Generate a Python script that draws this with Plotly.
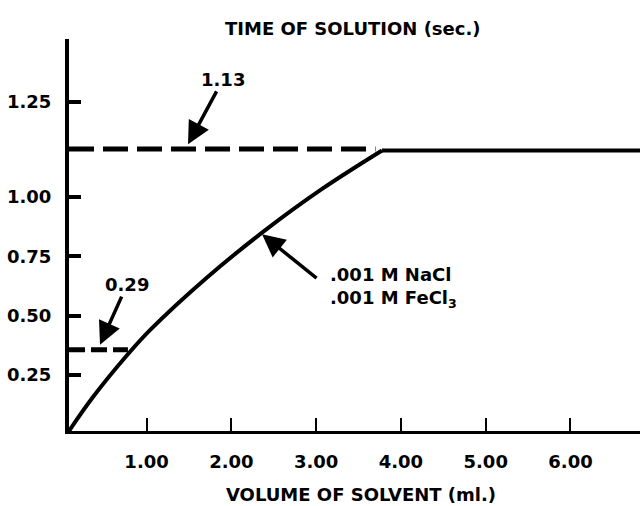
import plotly.graph_objects as go

# Curve: volume of solvent (ml) vs time of solution (sec), in the chart's drawn scale
volume_ml = [0.085, 0.368, 0.769, 1.040, 1.713, 2.385, 3.070, 3.777, 6.82]
time_sec = [0.014, 0.157, 0.333, 0.439, 0.661, 0.856, 1.034, 1.196, 1.196]

# Dashed reference levels (drawn position), their labels, and where they end on x
ref_levels = [1.202, 0.356]
ref_labels = ["1.13", "0.29"]
ref_x_end = [3.70, 0.78]

x_tick_vals = [1, 2, 3, 4, 5, 6]
x_tick_labels = ["1.00", "2.00", "3.00", "4.00", "5.00", "6.00"]
y_tick_vals = [0.25, 0.50, 0.75, 1.00, 1.40]
y_tick_labels = ["0.25", "0.50", "0.75", "1.00", "1.25"]

series_label = ".001 M NaCl<br>.001 M FeCl<sub>3</sub>"

FONT = "DejaVu Sans"
x0, x1 = 0.085, 6.82
y0, y1 = 0.014, 1.666

fig = go.Figure()

# dashed reference lines
dash_styles = ["25px,9px", "16px,6px"]
for lvl, xe, ds in zip(ref_levels, ref_x_end, dash_styles):
    fig.add_trace(go.Scatter(x=[x0, xe], y=[lvl, lvl], mode="lines",
                             line=dict(color="black", width=5, dash=ds),
                             hoverinfo="skip", showlegend=False))

# rising part of the curve (smooth)
fig.add_trace(go.Scatter(x=volume_ml[:-1], y=time_sec[:-1], mode="lines",
                         line=dict(color="black", width=4, shape="spline", smoothing=1.0),
                         showlegend=False))
# plateau
fig.add_trace(go.Scatter(x=volume_ml[-2:], y=time_sec[-2:], mode="lines",
                         line=dict(color="black", width=4),
                         showlegend=False))

bold18 = dict(family=FONT, size=18, color="black", weight="bold")

annotations = []
annotations.append(dict(x=1.489, y=1.222, xref="x", yref="y", text=ref_labels[0],
                        showarrow=True, ax=35, ay=-65, arrowhead=2, arrowsize=1.3,
                        arrowwidth=3.5, arrowcolor="black", font=bold18))
annotations.append(dict(x=0.451, y=0.378, xref="x", yref="y", text=ref_labels[1],
                        showarrow=True, ax=27, ay=-60, arrowhead=2, arrowsize=1.3,
                        arrowwidth=3.5, arrowcolor="black", font=bold18))
annotations.append(dict(x=2.362, y=0.843, xref="x", yref="y", text="",
                        showarrow=True, ax=56, ay=45, arrowhead=2,
                        arrowsize=1.3, arrowwidth=3.5, arrowcolor="black"))
annotations.append(dict(x=3.14, y=0.619, xref="x", yref="y", text=series_label,
                        showarrow=False, xanchor="left", yanchor="middle", align="left",
                        font=bold18))
annotations.append(dict(x=0.497, y=1.027, xref="paper", yref="paper",
                        text="TIME OF SOLUTION (sec.)", showarrow=False,
                        xanchor="center", yanchor="middle", font=bold18))
annotations.append(dict(x=0.511, y=-0.163, xref="paper", yref="paper",
                        text="VOLUME OF SOLVENT (ml.)", showarrow=False,
                        xanchor="center", yanchor="middle", font=bold18))

fig.update_layout(
    width=640, height=506,
    margin=dict(l=69, r=0, t=39, b=75),
    paper_bgcolor="white", plot_bgcolor="white",
    showlegend=False,
    annotations=annotations,
    xaxis=dict(range=[x0, x1], showgrid=False, zeroline=False,
               showline=True, linecolor="black", linewidth=3,
               tickmode="array", tickvals=x_tick_vals, ticktext=x_tick_labels,
               ticks="inside", ticklen=13, tickwidth=2, tickcolor="black",
               ticklabelstandoff=12, tickfont=bold18),
    yaxis=dict(range=[y0, y1], showgrid=False, zeroline=False,
               showline=True, linecolor="black", linewidth=4,
               tickmode="array", tickvals=y_tick_vals, ticktext=y_tick_labels,
               ticks="inside", ticklen=12, tickwidth=4, tickcolor="black",
               ticklabelstandoff=10, tickfont=bold18),
)

fig.write_html("out.html", config={"displayModeBar": False},
               post_script="document.body.style.margin='0';document.body.style.overflow='hidden';")
